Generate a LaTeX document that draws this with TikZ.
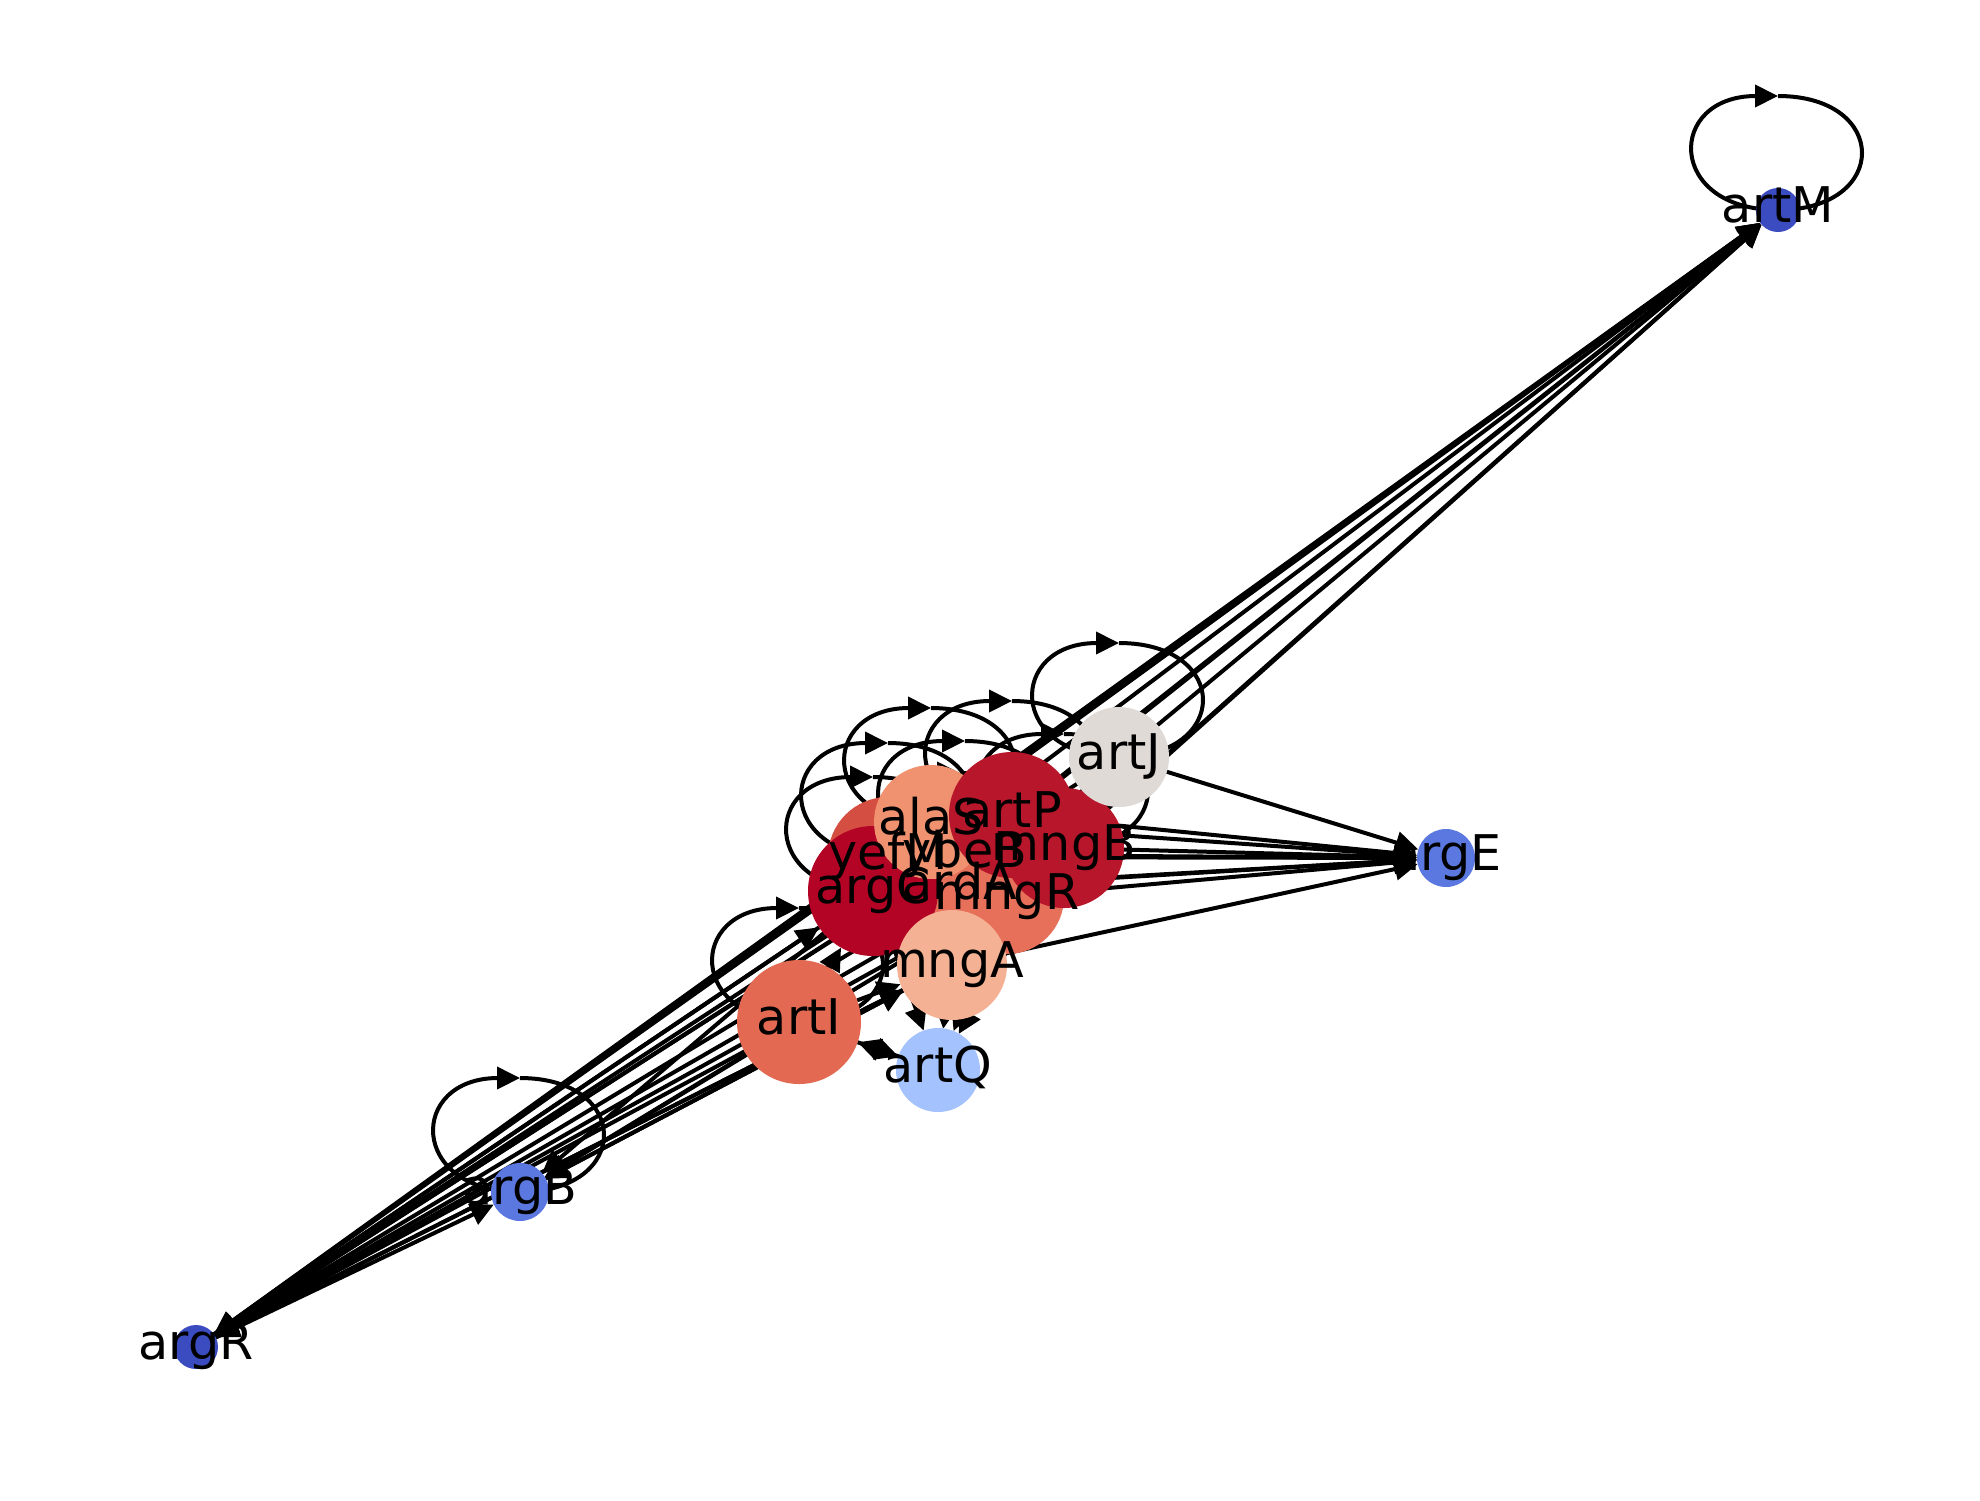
\documentclass[tikz,border=0pt]{standalone}
\usepackage{fontspec}
\setmainfont{DejaVu Sans}
\usetikzlibrary{arrows.meta,calc}
\pgfdeclarelayer{bglayer}
\pgfdeclarelayer{edgelayer}
\pgfdeclarelayer{labellayer}
\pgfsetlayers{bglayer,edgelayer,main,labellayer}
\definecolor{cdeep}{HTML}{3B4CC0}
\definecolor{cblue}{HTML}{5A78DF}
\definecolor{clblue}{HTML}{A3C2FE}
\definecolor{cgray}{HTML}{E0DAD7}
\definecolor{cpeach}{HTML}{F5B194}
\definecolor{csalmon}{HTML}{F0926F}
\definecolor{corange}{HTML}{E36952}
\definecolor{corange2}{HTML}{E6705A}
\definecolor{cred1}{HTML}{D44E41}
\definecolor{cred2}{HTML}{B8172B}
\definecolor{cred3}{HTML}{B40426}
\definecolor{cred4}{HTML}{C83237}
\tikzset{
  vtx/.style={circle, inner sep=0pt, outer sep=0pt, draw=none, minimum size=#1},
  lbl/.style={anchor=base, inner sep=0pt, yshift=-6.4pt, font=\fontsize{24.6}{24.6}\selectfont},
  edge/.style={line width=2pt, -{Triangle[length=11.5pt,width=11pt]}},
}
\newcommand{\selfloop}[1]{%
  \draw[edge] ($(#1)+(0,-114)$) .. controls ($(#1)+(112,-114)$) and ($(#1)+(112,0)$) .. (#1.center)
    .. controls ($(#1)+(-112,0)$) and ($(#1)+(-112,-114)$) .. ($(#1)+(0,-114)$);}
\begin{document}
\begin{tikzpicture}[x=0.5pt,y=-0.5pt]
\begin{pgfonlayer}{bglayer}
\fill[white] (0,0) rectangle (1980,1500);
\end{pgfonlayer}
\useasboundingbox (0,0) rectangle (1980,1500);

% nodes, bottom to top
\node[vtx=60pt, fill=cred4] (ybeB) at (965,855) {};
\node[vtx=60pt, fill=cred1] (yefM) at (888,857) {};
\node[vtx=58pt, fill=corange2] (ardA) at (960,887) {};
\node[vtx=57pt, fill=corange2] (mngR) at (1007,897) {};
\node[vtx=65pt, fill=cred3] (argC) at (873,891) {};
\node[vtx=57pt, fill=csalmon] (alaS) at (931,822) {};
\node[vtx=63pt, fill=cred2] (artP) at (1012,815) {};
\node[vtx=60pt, fill=cred2] (mngB) at (1064,848) {};
\node[vtx=55pt, fill=cpeach] (mngA) at (952,965) {};
\node[vtx=50pt, fill=cgray] (artJ) at (1119,757) {};
\node[vtx=62pt, fill=corange] (artI) at (799,1022) {};
\node[vtx=42pt, fill=clblue] (artQ) at (938,1070) {};
\node[vtx=29pt, fill=cblue] (argB) at (520,1192) {};
\node[vtx=29pt, fill=cblue] (argE) at (1446,858) {};
\node[vtx=22pt, fill=cdeep] (argR) at (196,1347) {};
\node[vtx=22pt, fill=cdeep] (artM) at (1778,210) {};

\begin{pgfonlayer}{edgelayer}
% self loops
\foreach \n in {artM,argB,artJ,artI,alaS,artP,yefM,ybeB,argC,mngB,ardA} {\selfloop{\n}}
% to artM
\foreach \s in {argR,yefM,alaS,argC,ybeB,artP,artJ,mngB,mngR} {\draw[edge] (\s) -- (artM);}
% to argE
\foreach \s in {artJ,mngB,artP,alaS,ybeB,mngR,argC,yefM,ardA,mngA} {\draw[edge] (\s) -- (argE);}
% to argR
\foreach \s in {argC,yefM,alaS,ybeB,artP,mngB,mngR,ardA,mngA,artI,artJ} {\draw[edge] (\s) -- (argR);}
\draw[edge] (argR) -- (argB);
% to argB
\foreach \s in {artI,mngA,mngR,argC} {\draw[edge] (\s) -- (argB);}
% to mngA and argC
\foreach \s in {argR,argB,artI} {\draw[edge] (\s) -- (mngA);}
\foreach \s in {argR,artI} {\draw[edge] (\s) -- (argC);}
% to artQ
\foreach \s in {argC,mngA,mngR,ardA,mngB,artJ,artI} {\draw[edge] (\s) -- (artQ);}
\draw[edge] (artQ) -- (artI);
\end{pgfonlayer}

\begin{pgfonlayer}{labellayer}
\foreach \n in {ybeB,yefM,ardA,mngR,argC,alaS,artP,mngB,mngA,artJ,artI,artQ,argB,argE,argR,artM} {
  \node[lbl] (t-\n) at (\n) {\n};
}
\end{pgfonlayer}
\end{tikzpicture}
\end{document}
